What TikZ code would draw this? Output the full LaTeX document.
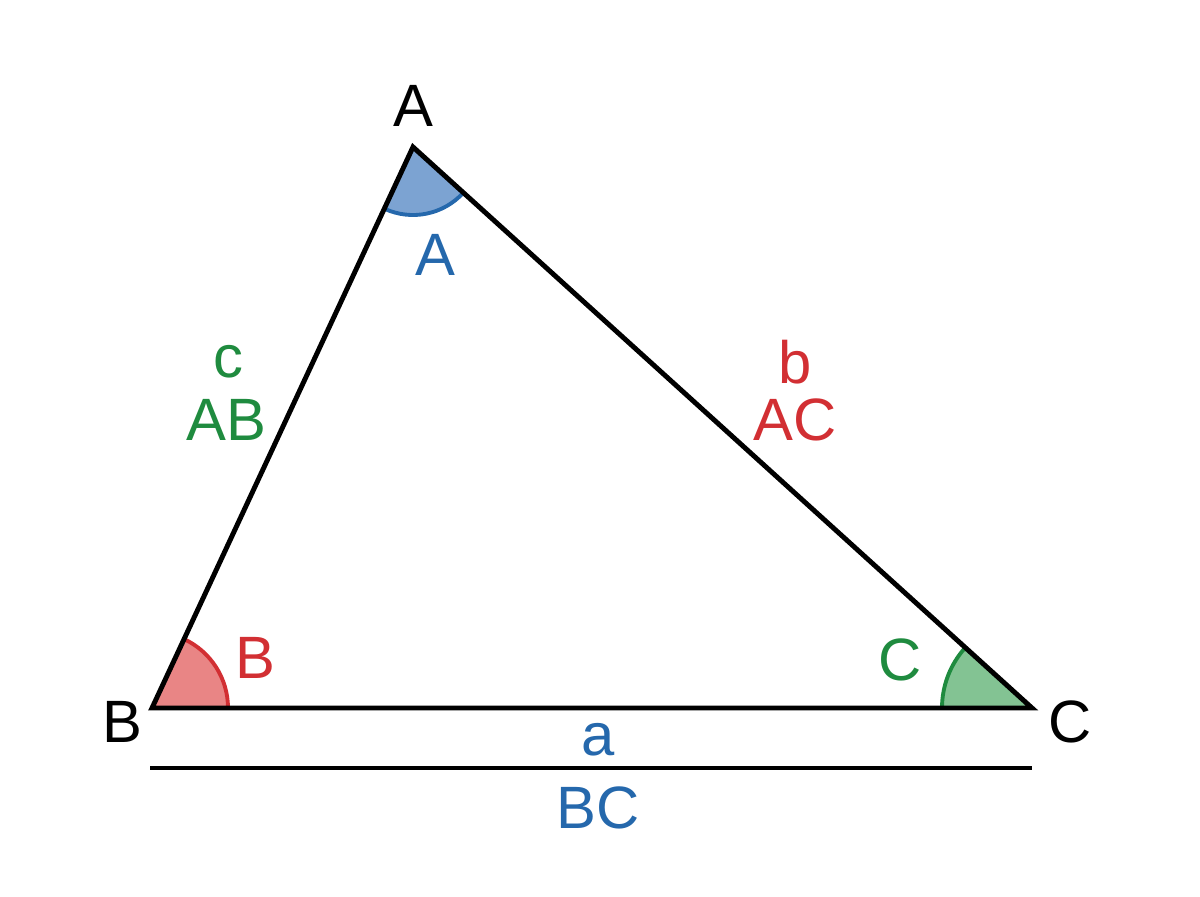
\documentclass[tikz,border=0pt]{standalone}
\usepackage{fontspec}
\setmainfont{Liberation Sans}
\definecolor{angblue}{HTML}{2568AC}
\definecolor{angbluefill}{HTML}{7CA3D2}
\definecolor{angred}{HTML}{D22F33}
\definecolor{angredfill}{HTML}{E98585}
\definecolor{anggreen}{HTML}{1F8B3F}
\definecolor{anggreenfill}{HTML}{83C393}
\begin{document}
\begin{tikzpicture}[x=0.01cm,y=-0.01cm,
    lbl/.style={inner sep=0pt,font=\fontsize{17}{20}\selectfont},
    side/.style={line width=1.4pt,line join=miter},
    angarc/.style={line width=1.1pt}]

  \useasboundingbox (0,0) rectangle (1200,896);

  \coordinate (A) at (413,147);
  \coordinate (B) at (152,708);
  \coordinate (C) at (1032,708);
  \coordinate (lineL) at (150,768);
  \coordinate (lineR) at (1032,768);

  % angle sectors
  \fill[angbluefill] (A) -- ++(42.18:68) arc[start angle=42.18,end angle=114.95,radius=68] -- cycle;
  \draw[angarc,angblue] (A) ++(42.18:68) arc[start angle=42.18,end angle=114.95,radius=68];
  \fill[angredfill] (B) -- ++(-65.05:76) arc[start angle=-65.05,end angle=0,radius=76] -- cycle;
  \draw[angarc,angred] (B) ++(-65.05:76) arc[start angle=-65.05,end angle=0,radius=76];
  \fill[anggreenfill] (C) -- ++(180:90) arc[start angle=180,end angle=222.18,radius=90] -- cycle;
  \draw[angarc,anggreen] (C) ++(180:90) arc[start angle=180,end angle=222.18,radius=90];

  \draw[side] (A) -- (B) -- (C) -- cycle;
  \draw[side] (lineL) -- (lineR);

  \node[lbl] (vA) at (413,106) {A};
  \node[lbl] (vB) at (122,722) {B};
  \node[lbl] (vC) at (1070,722) {C};

  \node[lbl,angblue] (angA) at (435,255) {A};
  \node[lbl,angred] (angB) at (255,658) {B};
  \node[lbl,anggreen] (angC) at (900,660) {C};

  \node[lbl,anggreen] (sidec) at (228,362) {c};
  \node[lbl,anggreen] (sideAB) at (226,420) {AB};
  \node[lbl,angred] (sideb) at (795,362) {b};
  \node[lbl,angred] (sideAC) at (795,420) {AC};
  \node[lbl,angblue] (sidea) at (598,740) {a};
  \node[lbl,angblue] (sideBC) at (598,808) {BC};

\end{tikzpicture}
\end{document}
